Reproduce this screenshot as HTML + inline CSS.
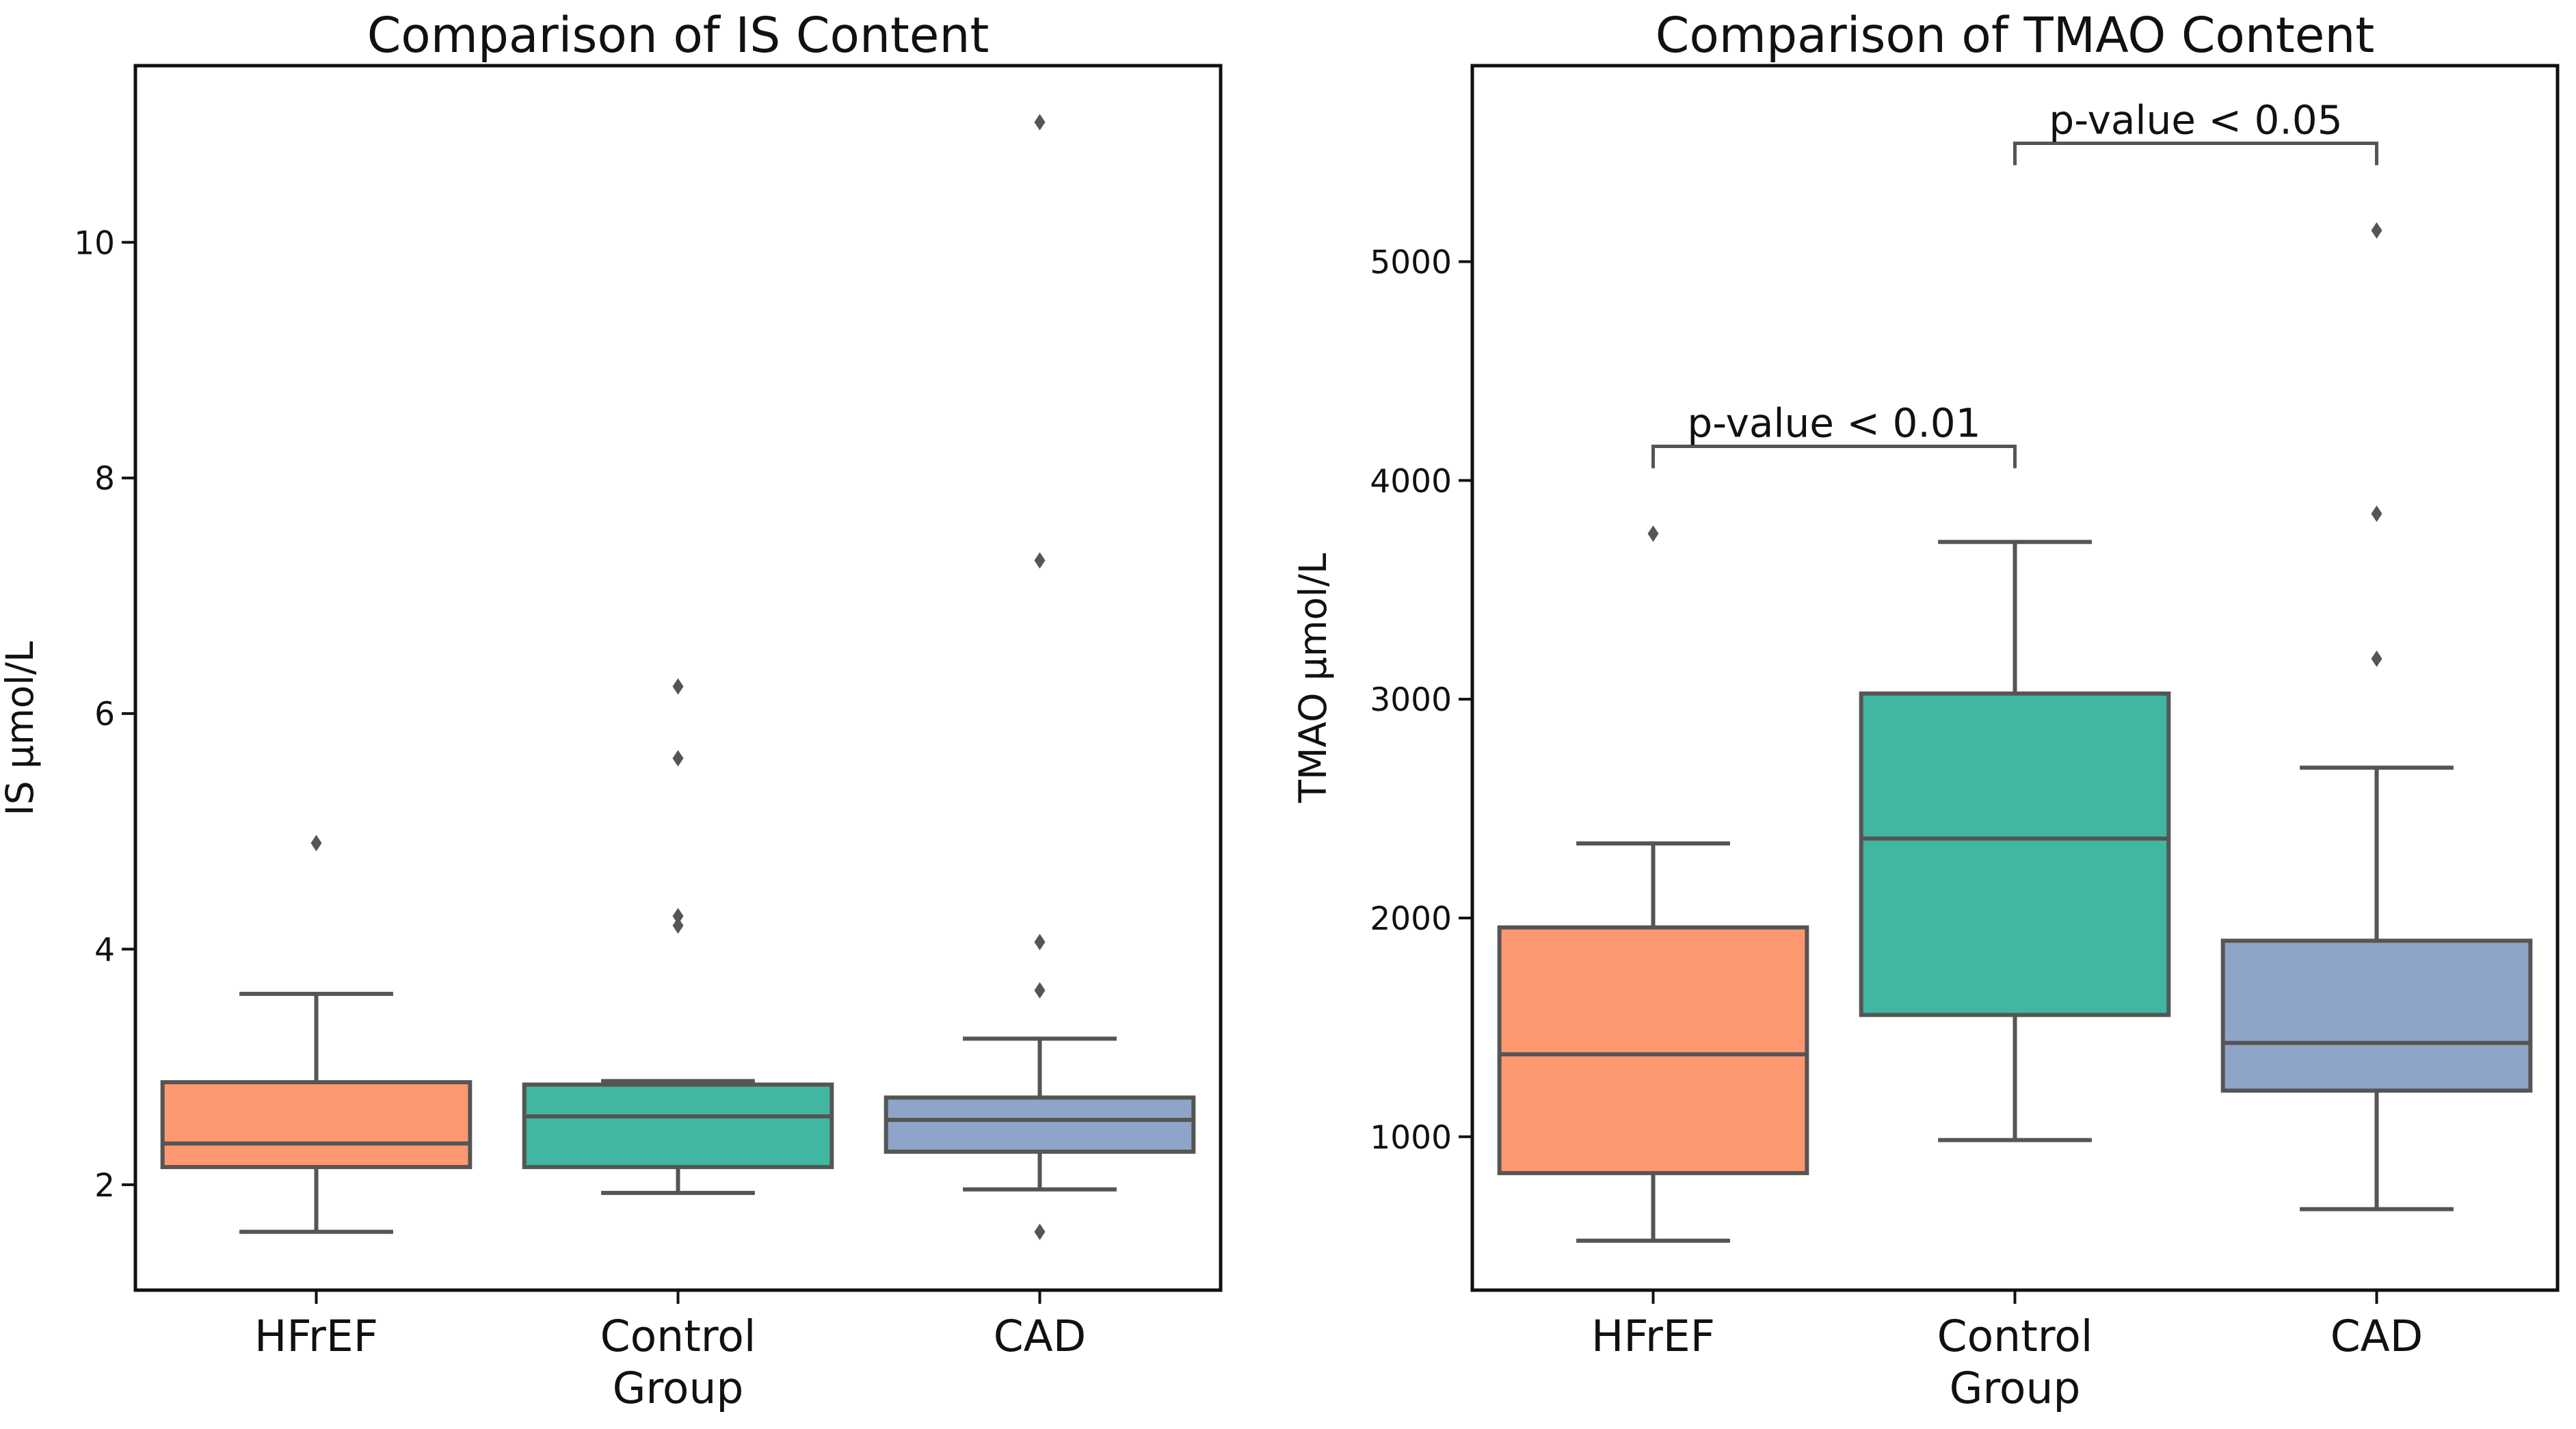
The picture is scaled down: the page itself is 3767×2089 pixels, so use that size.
<!DOCTYPE html>
<html><head><meta charset="utf-8"><style>
html,body{margin:0;padding:0;background:#fff}
svg{display:block;font-family:"DejaVu Sans","Liberation Sans",sans-serif}
</style></head><body>
<svg id="chart" width="3767" height="2089" viewBox="0 0 3767 2089" xmlns="http://www.w3.org/2000/svg"></svg>
<script>
// ---- data ----
const categories = ["HFrEF", "Control\nGroup", "CAD"];
const isLow = [1.6, 1.93, 1.96];
const isQ1 = [2.15, 2.15, 2.28];
const isMed = [2.35, 2.58, 2.55];
const isQ3 = [2.87, 2.85, 2.74];
const isHigh = [3.62, 2.88, 3.24];
const isOutliers = [[4.9], [4.2, 4.28, 5.62, 6.23], [1.6, 3.65, 4.06, 7.3, 11.02]];
const isTicks = [2, 4, 6, 8, 10];
const tmLow = [525, 985, 669];
const tmQ1 = [834, 1557, 1211];
const tmMed = [1377, 2363, 1429];
const tmQ3 = [1957, 3026, 1896];
const tmHigh = [2341, 3719, 2687];
const tmOutliers = [[3757], [], [3185, 3848, 5143]];
const tmTicks = [1000, 2000, 3000, 4000, 5000];
const brackets = [{a:0,b:1,y:4156,label:"p-value < 0.01"},{a:1,b:2,y:5541,label:"p-value < 0.05"}];
const colors = ["#fe9870", "#41b6a0", "#8ea5c8"];

const NS = "http://www.w3.org/2000/svg";
const svg = document.getElementById("chart");
function mk(tag, attrs, parent){const e=document.createElementNS(NS,tag);for(const k in attrs)e.setAttribute(k,attrs[k]);(parent||svg).appendChild(e);return e;}

function panel(opt){
  const {x0,x1,y0,y1,dmin,dmax,title,ylabel,low,q1,med,q3,high,outs,ticks,name,ylOff,ylY} = opt;
  const g = mk("g",{});
  
  
  const yS = v => y1 - (v - dmin) / (dmax - dmin) * (y1 - y0);
  const step = (x1 - x0) / categories.length;
  const xS = i => x0 + step * (i + 0.5);
  const bw = step * 0.85;
  const t = mk("text",{x:(x0+x1)/2,y:76,"text-anchor":"middle","font-size":71,fill:"#111"},g);
  t.textContent = title;
  
  
  const yl = mk("text",{x:0,y:0,transform:`translate(${x0-ylOff},${ylY}) rotate(-90)`,"text-anchor":"middle","font-size":55,fill:"#111"},g);
  yl.textContent = ylabel;
  
  
  ticks.forEach(v=>{
    const y=yS(v);
    const tk=mk("line",{x1:x0-20,x2:x0,y1:y,y2:y,stroke:"#111","stroke-width":4},g);
    
    
    const tl=mk("text",{x:x0-30,y:y+17,"text-anchor":"end","font-size":47,fill:"#111"},g);
    tl.textContent=String(v);
    
    
  });
  categories.forEach((c,i)=>{
    const cx=xS(i);
    const bg=mk("g",{},g);
    
    
    mk("line",{x1:cx,x2:cx,y1:yS(high[i]),y2:yS(q3[i]),stroke:"#555","stroke-width":6},bg);
    mk("line",{x1:cx,x2:cx,y1:yS(q1[i]),y2:yS(low[i]),stroke:"#555","stroke-width":6},bg);
    mk("line",{x1:cx-bw/4,x2:cx+bw/4,y1:yS(high[i]),y2:yS(high[i]),stroke:"#555","stroke-width":6},bg);
    mk("line",{x1:cx-bw/4,x2:cx+bw/4,y1:yS(low[i]),y2:yS(low[i]),stroke:"#555","stroke-width":6},bg);
    mk("rect",{x:cx-bw/2,y:yS(q3[i]),width:bw,height:yS(q1[i])-yS(q3[i]),fill:colors[i],stroke:"#555","stroke-width":6},bg);
    mk("line",{x1:cx-bw/2,x2:cx+bw/2,y1:yS(med[i]),y2:yS(med[i]),stroke:"#555","stroke-width":6},bg);
    outs[i].forEach(v=>{
      const y=yS(v);
      const d=mk("path",{d:`M${cx},${y-12} L${cx+8},${y} L${cx},${y+12} L${cx-8},${y} Z`,fill:"#555"},bg);
      
      
    });
    const xt=mk("line",{x1:cx,x2:cx,y1:y1,y2:y1+20,stroke:"#111","stroke-width":4},g);
    
    
    c.split("\n").forEach((ln,k)=>{
      const xl=mk("text",{x:cx,y:1975+k*76,"text-anchor":"middle","font-size":63,fill:"#111"},g);
      xl.textContent=ln;
      
      
    });
  });
  if(opt.brackets){
    opt.brackets.forEach(b=>{
      const y=yS(b.y), xa=xS(b.a), xb=xS(b.b);
      const p=mk("path",{d:`M${xa},${y+32} L${xa},${y} L${xb},${y} L${xb},${y+32}`,fill:"none",stroke:"#555","stroke-width":5},g);
      
      
      const bt=mk("text",{x:(xa+xb)/2,y:y-14,"text-anchor":"middle","font-size":58,fill:"#111"},g);
      bt.textContent=b.label;
      
      
    });
  }
  const fr=mk("rect",{x:x0,y:y0,width:x1-x0,height:y1-y0,fill:"none",stroke:"#111","stroke-width":5},g);
  
  
}

panel({x0:198,x1:1785,y0:96,y1:1886,dmin:1.105,dmax:11.5,title:"Comparison of IS Content",ylabel:"IS µmol/L",ylOff:150,ylY:1065,
  low:isLow,q1:isQ1,med:isMed,q3:isQ3,high:isHigh,outs:isOutliers,ticks:isTicks,name:"is-panel"});
panel({x0:2153,x1:3740,y0:96,y1:1886,dmin:299,dmax:5896,title:"Comparison of TMAO Content",ylabel:"TMAO µmol/L",ylOff:214,ylY:991,
  low:tmLow,q1:tmQ1,med:tmMed,q3:tmQ3,high:tmHigh,outs:tmOutliers,ticks:tmTicks,name:"tmao-panel",brackets:brackets});
</script>
</body></html>
